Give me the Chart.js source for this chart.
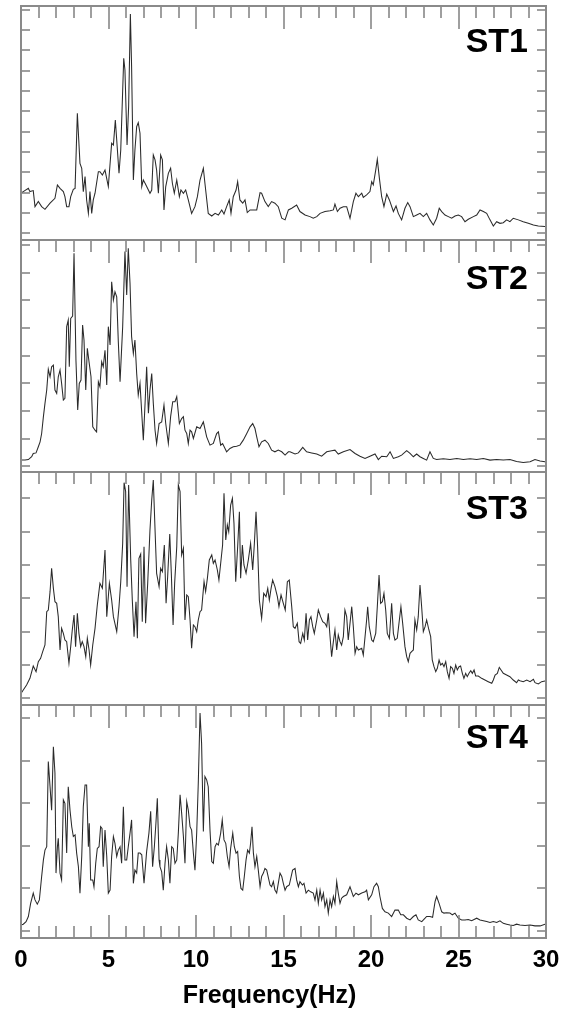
<!DOCTYPE html>
<html><head><meta charset="utf-8">
<script src="https://cdn.jsdelivr.net/npm/chart.js@4.4.1/dist/chart.umd.min.js"></script>
<style>
html,body{margin:0;padding:0;background:#fff;}
body{width:574px;height:1014px;position:relative;overflow:hidden;}
canvas{position:absolute;left:0;display:block;}
</style></head><body>
<canvas id="c1"></canvas><canvas id="c2"></canvas><canvas id="c3"></canvas><canvas id="c4"></canvas>
<script>
// ---------- data (frequency in Hz, amplitude in arbitrary units) ----------
const stationLabels = ['ST1','ST2','ST3','ST4'];
const xTickLabels = [0,5,10,15,20,25,30];
const xMinorTicks = [0,1,2,3,4,5,6,7,8,9,10,11,12,13,14,15,16,17,18,19,20,21,22,23,24,25,26,27,28,29,30];
const xAxisTitle = 'Frequency(Hz)';

const st1Freq = [0,0.13,0.42,0.51,0.70,0.80,0.99,1.18,1.37,1.66,1.94,2.08,2.23,2.42,2.51,2.61,2.74,2.84,2.99,3.09,3.22,3.30,3.37,3.47,3.56,3.66,3.75,3.85,3.94,4.04,4.13,4.23,4.42,4.51,4.65,4.80,4.99,5.18,5.28,5.39,5.47,5.60,5.70,5.87,5.94,6.06,6.15,6.25,6.32,6.42,6.51,6.61,6.70,6.80,6.90,6.99,7.09,7.28,7.37,7.47,7.56,7.66,7.75,7.85,7.98,8.08,8.17,8.27,8.42,8.55,8.65,8.76,8.90,9.05,9.14,9.28,9.41,9.56,9.75,9.94,10.08,10.23,10.42,10.51,10.70,10.90,11.09,11.28,11.47,11.60,11.75,11.90,12.00,12.13,12.29,12.38,12.51,12.67,12.80,12.93,13.09,13.47,13.66,13.75,13.94,14.13,14.32,14.51,14.70,14.90,15.09,15.28,15.47,15.75,15.94,16.23,16.51,16.70,16.90,17.09,17.37,17.66,17.85,17.94,18.08,18.23,18.42,18.61,18.80,18.99,19.14,19.28,19.47,19.56,19.75,19.94,20.04,20.13,20.27,20.36,20.48,20.61,20.74,20.90,21.05,21.28,21.43,21.56,21.75,21.94,22.10,22.23,22.42,22.61,22.80,22.99,23.18,23.37,23.56,23.75,23.90,24.04,24.23,24.42,24.61,24.80,24.99,25.18,25.37,25.56,25.85,26.04,26.23,26.42,26.61,26.80,26.99,27.18,27.37,27.56,27.75,27.94,28.13,28.42,28.70,28.99,29.28,29.56,29.94,30];
const st1Amp  = [1.97,2.05,2.21,2.05,2.10,1.31,1.56,1.31,1.18,1.48,1.72,2.38,2.21,2.05,1.80,1.31,1.31,1.80,2.16,2.21,5.90,4.59,3.44,3.20,2.05,2.79,1.64,0.98,2.05,0.98,1.64,1.97,3.03,3.03,2.87,3.11,2.30,4.43,4.34,5.57,4.59,2.95,4.10,8.61,8.03,4.34,6.23,10.79,8.20,2.62,4.10,5.25,5.44,4.92,2.30,2.62,2.46,2.13,1.97,2.13,3.85,3.61,3.11,1.97,3.85,3.61,1.15,2.30,2.95,3.20,2.46,1.97,2.62,1.80,2.13,1.97,2.13,1.64,0.98,1.31,1.80,2.62,3.20,2.46,0.98,0.85,0.98,0.90,1.15,0.95,1.31,1.64,0.98,1.80,2.13,2.54,1.64,1.48,1.64,1.02,1.15,1.15,2.00,1.97,1.56,1.31,1.56,1.48,1.31,0.74,0.66,1.15,1.23,1.39,1.07,0.90,0.82,0.74,0.82,0.98,1.07,1.11,1.15,1.44,1.07,1.23,1.31,1.31,0.74,1.56,1.97,1.80,1.97,1.77,1.89,2.05,2.54,2.38,3.11,3.64,2.70,1.80,1.31,1.93,1.64,1.07,1.34,0.98,0.66,1.23,1.51,1.31,0.82,0.90,0.98,0.82,0.98,0.66,0.41,0.74,1.23,1.07,0.90,0.82,0.74,0.85,0.90,0.82,0.57,0.69,0.82,0.90,1.15,1.07,0.98,0.66,0.36,0.57,0.49,0.52,0.66,0.57,0.74,0.66,0.57,0.49,0.41,0.36,0.33,0.33];

const st2Freq = [0,0.23,0.42,0.61,0.70,0.86,0.99,1.09,1.18,1.28,1.37,1.47,1.56,1.66,1.75,1.85,1.94,2.04,2.13,2.23,2.32,2.42,2.51,2.61,2.70,2.76,2.84,2.95,3.03,3.14,3.24,3.33,3.43,3.52,3.60,3.70,3.79,3.90,4.00,4.10,4.23,4.32,4.42,4.51,4.61,4.70,4.80,4.90,4.99,5.09,5.18,5.28,5.37,5.47,5.56,5.66,5.81,5.94,6.04,6.13,6.23,6.32,6.42,6.51,6.61,6.70,6.80,6.90,6.99,7.09,7.18,7.28,7.37,7.47,7.56,7.66,7.75,7.89,8.04,8.17,8.27,8.42,8.55,8.67,8.80,8.90,9.05,9.18,9.28,9.37,9.47,9.56,9.66,9.75,9.85,10.04,10.23,10.42,10.61,10.80,10.99,11.18,11.28,11.41,11.52,11.75,11.94,12.13,12.32,12.51,12.70,12.90,13.09,13.24,13.37,13.47,13.60,13.75,13.94,14.13,14.32,14.51,14.70,14.90,15.09,15.28,15.37,15.66,15.85,16.10,16.32,16.61,16.90,17.18,17.47,17.75,17.94,18.13,18.42,18.80,19.09,19.37,19.66,19.94,20.23,20.42,20.61,20.90,21.09,21.28,21.56,21.75,22.04,22.23,22.42,22.61,22.80,22.99,23.18,23.37,23.56,23.75,24.13,24.51,24.90,25.28,25.66,26.04,26.42,26.80,27.18,27.56,27.94,28.32,28.70,29.09,29.37,29.66,29.94,30];
const st2Amp  = [0.23,0.23,0.25,0.35,0.47,0.49,0.71,0.89,1.19,1.80,2.28,2.76,3.51,3.24,3.60,3.66,2.76,2.64,3.24,3.48,3.00,2.40,2.46,5.05,5.29,3.60,5.35,5.43,7.70,3.84,2.04,3.00,3.12,5.11,4.57,2.76,4.27,3.72,3.24,1.43,1.31,1.25,3.06,2.88,3.78,3.60,4.20,2.94,5.05,4.39,6.67,6.01,6.31,6.13,4.51,3.06,5.05,7.76,6.19,7.88,6.61,4.69,4.08,4.57,3.36,2.58,3.00,1.92,0.95,2.28,3.60,1.92,2.76,3.36,2.28,1.31,0.83,1.55,1.61,2.22,1.55,0.83,1.80,2.34,2.34,2.52,1.55,1.73,1.80,1.31,1.19,0.83,1.31,1.25,1.01,1.43,1.37,1.61,1.07,0.77,0.83,1.19,1.25,0.77,0.83,0.53,0.65,0.71,0.73,0.77,0.95,1.19,1.43,1.55,1.37,1.07,0.71,0.89,0.95,0.83,0.59,0.53,0.59,0.53,0.41,0.53,0.53,0.45,0.49,0.69,0.53,0.49,0.45,0.37,0.53,0.57,0.59,0.45,0.53,0.61,0.47,0.37,0.29,0.37,0.45,0.25,0.37,0.35,0.53,0.29,0.35,0.41,0.57,0.47,0.35,0.45,0.35,0.29,0.23,0.53,0.29,0.25,0.28,0.25,0.29,0.25,0.28,0.25,0.29,0.23,0.25,0.23,0.25,0.18,0.14,0.17,0.25,0.20,0.17,0.17];

const st3Freq = [0,0.13,0.32,0.51,0.70,0.86,0.99,1.12,1.24,1.37,1.47,1.56,1.66,1.75,1.85,1.94,2.04,2.13,2.23,2.32,2.42,2.51,2.61,2.74,2.84,2.93,3.03,3.12,3.22,3.31,3.41,3.50,3.60,3.70,3.79,3.89,3.98,4.10,4.23,4.36,4.51,4.65,4.80,4.90,5.05,5.18,5.28,5.47,5.60,5.70,5.81,5.89,5.98,6.06,6.15,6.27,6.36,6.46,6.57,6.65,6.74,6.84,6.93,7.03,7.12,7.24,7.37,7.47,7.56,7.66,7.75,7.89,7.98,8.08,8.19,8.29,8.38,8.50,8.59,8.69,8.78,8.90,8.99,9.09,9.18,9.28,9.37,9.47,9.56,9.66,9.75,9.85,9.94,10.04,10.13,10.23,10.32,10.46,10.55,10.65,10.76,10.90,10.99,11.09,11.22,11.31,11.43,11.52,11.60,11.70,11.79,11.87,11.98,12.08,12.17,12.27,12.38,12.48,12.55,12.65,12.74,12.86,12.99,13.12,13.24,13.33,13.43,13.52,13.62,13.75,13.87,14.00,14.10,14.19,14.29,14.38,14.51,14.65,14.74,14.86,14.99,15.10,15.22,15.33,15.47,15.56,15.66,15.79,15.89,15.98,16.10,16.19,16.29,16.38,16.48,16.57,16.67,16.76,16.90,16.99,17.12,17.24,17.37,17.47,17.56,17.66,17.75,17.85,17.94,18.04,18.13,18.23,18.32,18.42,18.51,18.61,18.70,18.80,18.90,18.99,19.09,19.18,19.28,19.47,19.56,19.66,19.75,19.81,19.90,20.04,20.13,20.27,20.36,20.46,20.55,20.65,20.74,20.84,20.93,21.05,21.18,21.28,21.37,21.50,21.62,21.71,21.81,21.94,22.04,22.13,22.23,22.32,22.42,22.51,22.61,22.70,22.80,22.90,22.99,23.09,23.18,23.31,23.41,23.50,23.60,23.70,23.79,23.89,23.98,24.08,24.17,24.27,24.36,24.46,24.55,24.65,24.74,24.84,24.93,25.03,25.12,25.22,25.31,25.41,25.50,25.60,25.70,25.79,25.89,25.98,26.13,26.32,26.51,26.70,26.90,26.99,27.09,27.22,27.33,27.43,27.56,27.75,27.94,28.13,28.32,28.42,28.51,28.70,28.90,29.09,29.28,29.37,29.56,29.75,29.94,30];
const st3Amp  = [0.15,0.25,0.40,0.60,0.97,0.80,1.10,1.20,1.40,1.60,2.60,2.65,3.20,3.90,3.30,2.90,2.85,2.45,1.45,2.10,1.95,1.75,1.70,1.05,1.55,2.05,2.50,1.55,2.55,1.95,1.55,1.70,1.55,1.25,1.80,1.45,1.00,1.60,2.10,2.80,3.45,3.30,4.45,2.45,3.45,2.95,2.45,2.00,2.75,3.50,4.65,6.47,6.20,3.35,6.40,4.15,2.95,1.85,2.90,1.80,4.20,4.33,2.30,4.55,2.25,3.45,5.05,5.95,6.55,5.05,3.75,3.35,3.90,3.80,4.60,2.85,3.65,4.93,3.75,2.20,3.45,4.55,6.40,6.20,4.30,4.50,2.35,3.10,3.05,2.35,1.50,2.20,2.15,2.00,2.35,2.60,2.65,3.50,3.20,3.60,4.15,4.30,4.05,4.15,3.85,3.55,4.15,4.60,6.15,4.75,5.20,5.00,5.80,6.00,5.25,3.50,4.55,5.60,3.60,4.60,4.00,3.75,4.15,4.65,3.85,4.60,5.60,4.55,2.95,2.40,3.15,3.05,3.30,2.95,3.30,3.55,3.35,3.05,2.75,3.10,2.85,2.65,3.50,3.55,2.75,2.15,2.10,2.25,1.70,1.65,1.95,1.75,2.55,1.75,2.35,2.45,2.15,1.95,2.35,2.65,2.45,2.30,2.25,2.15,2.55,1.85,1.25,1.70,2.05,1.45,1.90,1.70,1.60,1.85,2.65,2.45,1.75,2.25,2.75,2.15,1.35,1.55,1.45,1.50,1.30,1.85,2.35,2.75,2.15,1.75,1.70,1.95,2.75,3.70,2.85,2.90,3.15,2.65,1.95,1.80,2.85,1.95,1.75,1.80,2.35,2.75,2.25,1.55,1.25,1.10,1.35,1.40,1.45,2.35,2.05,2.45,3.40,2.70,2.00,2.15,2.35,2.05,1.85,1.15,0.95,0.80,0.90,1.15,1.00,1.05,0.95,1.10,0.80,0.60,0.95,0.90,0.75,1.00,0.85,0.95,0.97,0.75,0.60,0.75,0.65,0.75,0.83,0.75,0.85,0.67,0.67,0.60,0.55,0.50,0.45,0.55,0.70,0.75,0.93,0.85,0.75,0.70,0.65,0.55,0.47,0.55,0.53,0.50,0.55,0.50,0.57,0.47,0.43,0.50,0.52,0.52];

const st4Freq = [0,0.13,0.29,0.42,0.55,0.70,0.80,0.93,1.05,1.18,1.28,1.37,1.47,1.56,1.66,1.75,1.85,1.94,2.00,2.08,2.13,2.23,2.32,2.42,2.51,2.61,2.70,2.80,2.90,2.99,3.09,3.18,3.28,3.37,3.47,3.56,3.66,3.75,3.85,3.90,3.98,4.10,4.17,4.27,4.36,4.46,4.55,4.63,4.70,4.80,4.90,4.99,5.09,5.18,5.28,5.37,5.47,5.56,5.66,5.75,5.85,5.94,6.04,6.13,6.23,6.32,6.42,6.51,6.61,6.70,6.80,6.90,7.03,7.18,7.31,7.41,7.52,7.62,7.71,7.79,7.89,7.94,8.04,8.13,8.23,8.32,8.42,8.51,8.61,8.70,8.80,8.90,8.99,9.09,9.18,9.28,9.37,9.47,9.56,9.66,9.75,9.85,9.94,10.04,10.13,10.23,10.32,10.42,10.51,10.61,10.70,10.80,10.90,10.99,11.09,11.18,11.28,11.41,11.50,11.60,11.70,11.79,11.89,11.98,12.10,12.19,12.29,12.38,12.48,12.57,12.67,12.76,12.86,12.95,13.05,13.12,13.20,13.28,13.37,13.47,13.56,13.66,13.75,13.85,13.94,14.04,14.23,14.32,14.42,14.51,14.61,14.80,14.90,14.99,15.09,15.18,15.33,15.52,15.66,15.75,15.85,15.94,16.08,16.17,16.29,16.42,16.55,16.70,16.80,16.90,16.99,17.09,17.18,17.28,17.37,17.47,17.56,17.66,17.75,17.85,17.94,18.04,18.13,18.23,18.32,18.42,18.61,18.80,18.90,18.99,19.14,19.28,19.47,19.66,19.75,19.85,20.04,20.17,20.32,20.42,20.51,20.65,20.80,20.99,21.18,21.37,21.56,21.70,21.85,22.04,22.23,22.42,22.57,22.70,22.90,23.09,23.18,23.37,23.52,23.66,23.75,23.89,24.04,24.17,24.32,24.51,24.65,24.80,24.99,25.18,25.37,25.56,25.75,26.04,26.23,26.42,26.61,26.80,26.99,27.18,27.37,27.56,27.75,27.94,28.13,28.32,28.51,28.80,29.09,29.37,29.66,29.94,30];
const st4Amp  = [0.14,0.16,0.22,0.34,0.65,0.89,0.73,0.63,0.73,1.28,1.67,1.90,1.98,3.98,3.39,2.84,4.33,3.71,1.36,1.98,2.18,1.36,1.20,3.08,3.00,1.83,3.39,2.84,2.45,2.22,2.26,1.83,1.51,0.89,1.75,2.92,3.43,3.43,1.98,2.53,1.20,1.20,1.04,1.59,1.94,1.98,2.45,2.41,1.51,2.37,1.75,0.89,0.96,1.75,2.22,2.06,1.75,1.90,1.98,1.59,2.92,1.67,1.67,1.98,2.30,2.61,1.12,1.43,1.36,1.83,1.83,1.79,1.12,1.87,2.30,2.81,1.51,1.98,2.53,3.12,1.67,1.51,1.39,0.96,1.59,1.98,1.67,1.12,1.98,1.94,1.59,1.67,2.30,3.20,2.77,2.22,1.59,3.04,2.84,2.45,2.37,1.83,1.43,2.30,3.47,5.12,4.41,2.34,3.63,3.55,3.39,2.37,1.63,1.59,1.98,2.06,2.02,2.30,2.61,2.14,2.06,1.75,1.51,1.94,2.30,1.98,1.83,1.87,1.28,1.00,0.96,1.28,1.67,1.90,1.83,2.06,2.45,1.83,1.51,1.75,1.43,1.04,1.28,1.36,1.47,1.43,1.08,1.04,1.16,0.96,0.89,1.36,1.28,1.12,0.96,1.04,1.08,1.43,1.47,1.20,1.04,1.16,1.08,1.12,0.89,0.96,0.92,0.89,0.73,0.96,0.65,0.96,0.73,0.89,0.57,0.73,0.42,0.73,0.57,0.81,0.65,1.16,0.89,0.65,0.77,0.81,0.85,1.04,0.92,0.81,0.89,0.85,0.89,0.92,0.96,0.73,0.85,1.04,1.12,1.04,0.81,0.53,0.45,0.42,0.34,0.49,0.49,0.38,0.38,0.30,0.26,0.34,0.38,0.26,0.22,0.30,0.34,0.34,0.32,0.69,0.81,0.65,0.45,0.42,0.43,0.42,0.38,0.42,0.30,0.26,0.26,0.27,0.24,0.30,0.26,0.24,0.22,0.20,0.22,0.20,0.24,0.18,0.16,0.14,0.13,0.16,0.14,0.13,0.14,0.12,0.12,0.16,0.16];

const seriesFreq = [st1Freq, st2Freq, st3Freq, st4Freq];
const seriesAmp  = [st1Amp, st2Amp, st3Amp, st4Amp];

// ---------- layout / axis configuration ----------
const panelTop    = [6, 240, 472, 705];
const panelBottom = [240, 472, 705, 938];
const yMin = [-0.33, -0.20, -0.20, -0.165];
const yMax = [11.18, 8.18, 6.79, 5.31];
const labelDy = [46, 49, 47, 43];
const PAD = 4;
const FONT = '"Liberation Sans", Arial, Helvetica, sans-serif';
const TICK_COLOR = '#808080';

const framePlugin = {
  id: 'frame',
  afterDraw(chart, args, opts) {
    const ctx = chart.ctx, a = chart.chartArea;
    const xs = chart.scales.x, ys = chart.scales.y;
    ctx.save();
    ctx.setLineDash([]);
    ctx.globalAlpha = 1;
    ctx.fillStyle = TICK_COLOR;
    xMinorTicks.forEach(t => {
      const px = Math.round(xs.getPixelForValue(t));
      const L = (t % 5 === 0) ? 23 : 12;
      ctx.fillRect(px - 0.75, a.top, 1.5, L);
      if (opts.bottomAxis) ctx.fillRect(px - 0.75, a.bottom - L, 1.5, L);
    });
    for (let v = Math.ceil(opts.yLo); v <= opts.yHi; v += 1) {
      const py = Math.round(ys.getPixelForValue(v));
      ctx.fillRect(a.left, py - 0.75, 9, 1.5);
      ctx.fillRect(a.right - 9, py - 0.75, 9, 1.5);
    }
    ctx.lineWidth = 2;
    ctx.strokeStyle = '#8a8a8a';
    ctx.strokeRect(a.left, a.top, a.right - a.left, a.bottom - a.top);
    ctx.fillStyle = '#000';
    ctx.font = 'bold 34px ' + FONT;
    ctx.textAlign = 'right';
    ctx.textBaseline = 'alphabetic';
    ctx.fillText(opts.label, a.right - 18, a.top + opts.labelDy);
    if (opts.bottomAxis) {
      ctx.font = 'bold 24px ' + FONT;
      ctx.textAlign = 'center';
      xTickLabels.forEach(v => {
        ctx.fillText(String(v), xs.getPixelForValue(v), a.bottom + 28.5);
      });
      ctx.font = 'bold 25px ' + FONT;
      ctx.fillText(xAxisTitle, a.left + 248.5, a.bottom + 65);
    }
    ctx.restore();
  }
};

for (let i = 0; i < 4; i++) {
  const cv = document.getElementById('c' + (i + 1));
  const last = i === 3;
  const top = panelTop[i] - PAD;
  const h = last ? (1014 - top) : (panelBottom[i] - panelTop[i] + 2 * PAD);
  cv.width = 574; cv.height = h;
  cv.style.top = top + 'px';
  cv.style.width = '574px'; cv.style.height = h + 'px';
  const pts = seriesFreq[i].map((f, k) => ({ x: f, y: seriesAmp[i][k] }));
  new Chart(cv, {
    type: 'line',
    data: { datasets: [{ data: pts, borderColor: '#2a2a2a', borderWidth: 1.05, pointRadius: 0, tension: 0, fill: false }] },
    options: {
      responsive: false, animation: false, devicePixelRatio: 1,
      events: [],
      layout: { padding: { left: 21, right: 28, top: PAD, bottom: last ? (1014 - panelBottom[i]) : PAD } },
      plugins: { legend: { display: false }, tooltip: { enabled: false },
        frame: { label: stationLabels[i], labelDy: labelDy[i], bottomAxis: last, yLo: yMin[i], yHi: yMax[i] } },
      scales: {
        x: { type: 'linear', min: 0, max: 30, display: false },
        y: { type: 'linear', min: yMin[i], max: yMax[i], display: false }
      }
    },
    plugins: [framePlugin]
  });
}
</script>
</body></html>
